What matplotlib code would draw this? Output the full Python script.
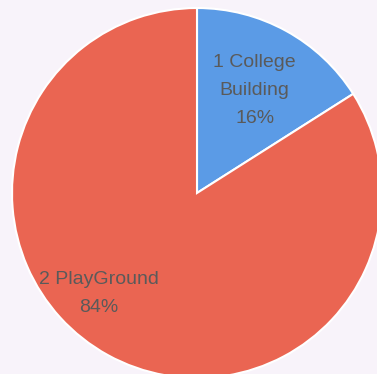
import numpy as np
import matplotlib
matplotlib.use("Agg")
import matplotlib.pyplot as plt

# Share of responses by location
categories = ["College\nBuilding", "PlayGround"]
numbers = ["1", "2"]
values = [16, 84]
colors = ["#5b9be6", "#ea6552"]
background = "#f8f3fa"

fig = plt.figure(figsize=(3.77, 3.74), dpi=100, facecolor=background)
ax = fig.add_axes([0, 0, 1, 1])
ax.set_facecolor(background)

wedges, _ = ax.pie(
    values,
    colors=colors,
    startangle=90,
    counterclock=False,
    radius=1.0,
    wedgeprops=dict(edgecolor="white", linewidth=1.5),
)

# label placement: distance from centre and angular nudge per slice
label_dist = [0.635, 0.76]
label_shift = [-0.6, -15.7]
for w, num, cat, v, d, s in zip(wedges, numbers, categories, values, label_dist, label_shift):
    mid = np.deg2rad((w.theta1 + w.theta2) / 2 + s)
    first, *rest = cat.split("\n")
    text = "\n".join([f"{num} {first}", *rest, f"{v}%"])
    ax.text(d * np.cos(mid), d * np.sin(mid), text,
            ha="center", va="center", fontsize=14, color="#5a5a5a",
            family="Liberation Sans", linespacing=1.85)

ax.set_xlim(-197 / 185, 180 / 185)
ax.set_ylim(-181 / 185, 193 / 185)
ax.set_aspect("auto")
ax.axis("off")

fig.savefig("out.png", dpi=100, facecolor=background)
